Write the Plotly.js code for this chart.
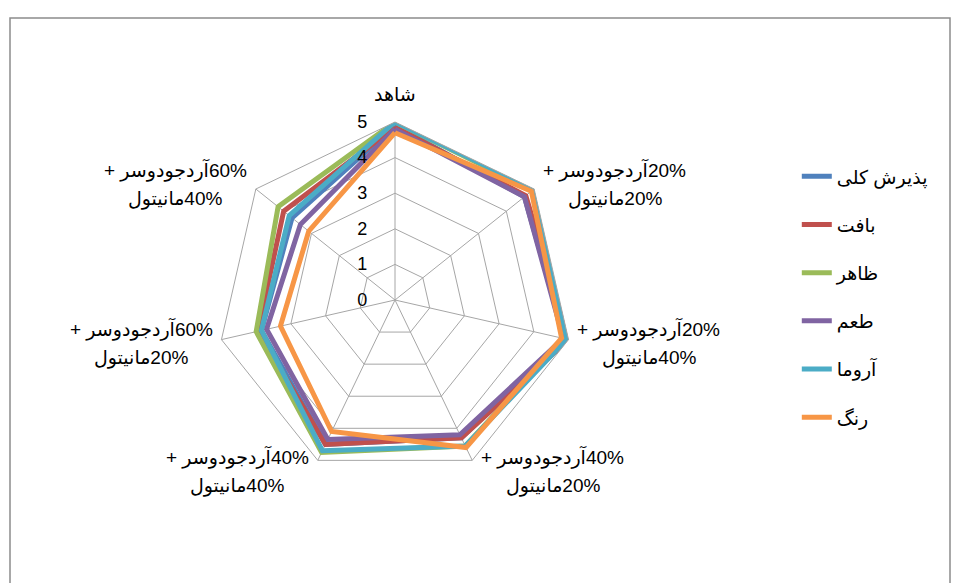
<!DOCTYPE html>
<html>
<head>
<meta charset="utf-8">
<script src="https://cdn.plot.ly/plotly-3.0.1.min.js"></script>
<style>
  html, body { margin: 0; padding: 0; background: #ffffff; }
  #chart { width: 960px; height: 583px; }
</style>
</head>
<body>
<div id="chart"></div>
<script>
// Categories (clockwise from top)
const categories = [
  'شاهد',
  '20%آردجودوسر + 20%مانیتول',
  '20%آردجودوسر + 40%مانیتول',
  '40%آردجودوسر + 20%مانیتول',
  '40%آردجودوسر + 40%مانیتول',
  '60%آردجودوسر + 20%مانیتول',
  '60%آردجودوسر + 40%مانیتول'
];
// Category label lines
const labelLine1 = ['شاهد', '20%آردجودوسر +', '20%آردجودوسر +', '40%آردجودوسر +', '40%آردجودوسر +', '60%آردجودوسر +', '60%آردجودوسر +'];
const labelLine2 = ['', '20%مانیتول', '40%مانیتول', '20%مانیتول', '40%مانیتول', '20%مانیتول', '40%مانیتول'];

// Series names
const seriesNames = ['پذیرش کلی', 'بافت', 'ظاهر', 'طعم', 'آروما', 'رنگ'];

// Series values
const overallAcceptance = [4.9, 4.65, 4.9, 4.3, 4.5, 3.85, 3.7];
const texture          = [4.85, 4.7, 5.0, 4.3, 4.5, 3.95, 4.0];
const appearance       = [5.0, 4.95, 4.9, 4.55, 4.75, 4.0, 4.2];
const taste            = [4.8, 4.65, 4.85, 4.2, 4.35, 3.7, 3.4];
const aroma            = [5.0, 5.0, 4.95, 4.55, 4.7, 3.85, 3.8];
const colour           = [4.7, 4.9, 4.8, 4.6, 4.1, 3.3, 3.1];

const radialTicks = [0, 1, 2, 3, 4, 5];

const seriesValues = [overallAcceptance, texture, appearance, taste, aroma, colour];
const seriesColors = ['#4F81BD', '#C0504D', '#9BBB59', '#8064A2', '#4BACC6', '#F79646'];

const FONT = 'Liberation Sans, Arial, DejaVu Sans, sans-serif';
const LABEL_SIZE = 19;
const W = 960, H = 583;
const CX = 395, CY = 300, R = 178;   // polar centre and outer radius (px)
const rtl = s => s ? '\u202B' + s + '\u202C' : s;  // right-to-left embedding for Persian text

// measure label widths so the two lines can be centred on each other
const ctx = document.createElement('canvas').getContext('2d');
ctx.font = LABEL_SIZE + 'px ' + FONT;
const textW = s => ctx.measureText(s).width;

const traces = seriesValues.map((vals, i) => ({
  type: 'scatterpolar',
  mode: 'lines',
  name: seriesNames[i],
  legendgroup: 'g' + i,
  r: vals.concat([vals[0]]),
  theta: categories.concat([categories[0]]),
  line: { color: seriesColors[i], width: 5 },
  hoverinfo: 'skip'
}));

// category labels placed outside each spoke of the polygon
const annotations = [];
categories.forEach((c, i) => {
  const a = i * 2 * Math.PI / categories.length;
  const s = Math.sin(a), co = Math.cos(a);
  const vx = CX + R * s, vy = CY - R * co;
  const font = { family: FONT, size: LABEL_SIZE, color: '#000' };
  if (i === 0) {
    annotations.push({ x: vx / W, y: 1 - (vy - 28) / H, xref: 'paper', yref: 'paper',
      text: rtl(labelLine1[i]), showarrow: false, xanchor: 'center', yanchor: 'middle', font });
    return;
  }
  const half = Math.max(textW(labelLine1[i]), textW(labelLine2[i])) / 2;
  const cxl = vx + Math.sign(s) * (9 + half);
  const cyl = vy - co * 10 + 2;
  [labelLine1[i], labelLine2[i]].forEach((t, k) => {
    annotations.push({ x: cxl / W, y: 1 - (cyl + (k === 0 ? -14.5 : 14.5)) / H,
      xref: 'paper', yref: 'paper', text: rtl(t), showarrow: false,
      xanchor: 'center', yanchor: 'middle', font });
  });
});

const layout = {
  width: W,
  height: H,
  margin: { l: 0, r: 0, t: 0, b: 0 },
  paper_bgcolor: '#ffffff',
  plot_bgcolor: '#ffffff',
  font: { family: FONT, size: 18, color: '#000000' },
  showlegend: true,
  legend: {
    x: 0.83, y: 0.73, xanchor: 'left', yanchor: 'top',
    font: { family: FONT, size: 19, color: '#000000' },
    tracegroupgap: 20.5,
    bgcolor: 'rgba(0,0,0,0)'
  },
  polar: {
    domain: { x: [(CX - R) / W, (CX + R) / W], y: [1 - (CY + R) / H, 1 - (CY - R) / H] },
    bgcolor: '#ffffff',
    gridshape: 'linear',
    angularaxis: {
      type: 'category',
      direction: 'clockwise',
      rotation: 90,
      categoryarray: categories,
      showticklabels: false,
      showline: true,
      linecolor: '#A6A6A6',
      linewidth: 1,
      gridcolor: '#A6A6A6',
      gridwidth: 1,
      ticks: ''
    },
    radialaxis: {
      range: [0, 5],
      tickvals: radialTicks,
      ticktext: radialTicks.map(String),
      angle: 90,
      tickangle: 90,
      side: 'counterclockwise',
      showline: false,
      gridcolor: '#A6A6A6',
      gridwidth: 1,
      ticks: 'outside',
      ticklen: 21,
      tickcolor: 'rgba(0,0,0,0)',
      tickfont: { family: FONT, size: 18, color: '#000000' }
    }
  },
  annotations: annotations,
  shapes: [{
    type: 'rect', xref: 'paper', yref: 'paper',
    x0: 10 / W, x1: 950 / W, y0: -0.2, y1: 1 - 18 / H,
    line: { color: '#8C8C8C', width: 1.5 }, fillcolor: 'rgba(0,0,0,0)', layer: 'below'
  }]
};

Plotly.newPlot('chart', traces, layout, { displayModeBar: false, staticPlot: true });
</script>
</body>
</html>
